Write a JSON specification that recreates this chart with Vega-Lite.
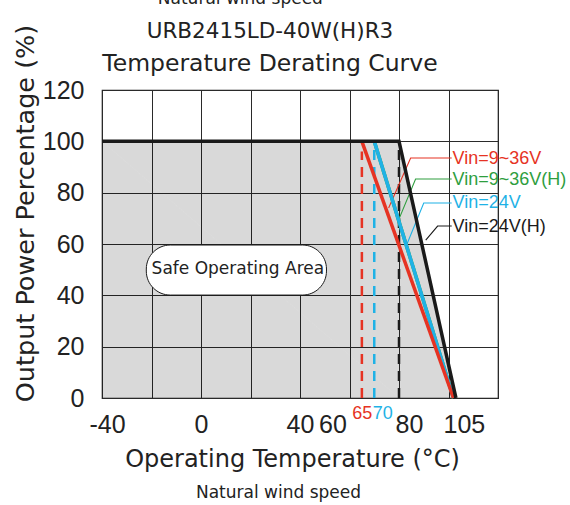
{
  "$schema": "https://vega.github.io/schema/vega-lite/v6.json",
  "width": 396,
  "height": 308,
  "autosize": "none",
  "padding": {"left": 102, "top": 90, "right": 72, "bottom": 107},
  "background": "white",
  "config": {
    "view": {"stroke": "#1a1a1a", "strokeWidth": 1.2},
    "font": "DejaVu Sans",
    "axis": {"labelOverlap": false}
  },
  "title": {
    "text": "URB2415LD-40W(H)R3",
    "subtitle": "Temperature Derating Curve",
    "fontSize": 21.5,
    "fontWeight": "normal",
    "font": "DejaVu Sans",
    "color": "#222",
    "subtitleFont": "DejaVu Sans",
    "subtitleFontSize": 23.5,
    "subtitleColor": "#222",
    "subtitlePadding": 10,
    "anchor": "middle",
    "dx": -30,
    "offset": -86
  },
  "datasets": {
    "curve": [
      {"s": "Vin=24V(H)", "t": -40, "p": 100, "o": 1},
      {"s": "Vin=24V(H)", "t": 80, "p": 100, "o": 2},
      {"s": "Vin=24V(H)", "t": 103, "p": 0, "o": 3},
      {"s": "Vin=9~36V(H)", "t": 70, "p": 100, "o": 1},
      {"s": "Vin=9~36V(H)", "t": 102, "p": 0, "o": 2},
      {"s": "Vin=24V", "t": 70, "p": 100, "o": 1},
      {"s": "Vin=24V", "t": 102, "p": 0, "o": 2},
      {"s": "Vin=9~36V", "t": 65, "p": 100, "o": 1},
      {"s": "Vin=9~36V", "t": 102, "p": 0, "o": 2}
    ],
    "dashes": [
      {"s": "Vin=9~36V", "t": 65, "p": 0, "p2": 96},
      {"s": "Vin=24V", "t": 70, "p": 0, "p2": 97},
      {"s": "Vin=24V(H)", "t": 80, "p": 0, "p2": 97}
    ],
    "leaders": [
      {"s": "Vin=9~36V", "t": 101.3, "p": 93.5, "o": 1},
      {"s": "Vin=9~36V", "t": 84.7, "p": 93.5, "o": 2},
      {"s": "Vin=9~36V", "t": 75.8, "p": 74.0, "o": 3},
      {"s": "Vin=9~36V(H)", "t": 101.3, "p": 85.3, "o": 1},
      {"s": "Vin=9~36V(H)", "t": 86.7, "p": 85.3, "o": 2},
      {"s": "Vin=9~36V(H)", "t": 79.8, "p": 69.3, "o": 3},
      {"s": "Vin=24V", "t": 101.3, "p": 76.0, "o": 1},
      {"s": "Vin=24V", "t": 90.0, "p": 76.0, "o": 2},
      {"s": "Vin=24V", "t": 83.4, "p": 60.4, "o": 3},
      {"s": "Vin=24V(H)", "t": 101.3, "p": 67.0, "o": 1},
      {"s": "Vin=24V(H)", "t": 95.6, "p": 67.0, "o": 2},
      {"s": "Vin=24V(H)", "t": 90.8, "p": 61.5, "o": 3}
    ],
    "labels": [
      {"s": "Vin=9~36V", "t": 101.6, "p": 93.3},
      {"s": "Vin=9~36V(H)", "t": 101.6, "p": 85.1},
      {"s": "Vin=24V", "t": 101.6, "p": 75.8},
      {"s": "Vin=24V(H)", "t": 101.6, "p": 66.8}
    ]
  },
  "encoding": {
    "x": {
      "field": "t",
      "type": "quantitative",
      "scale": {"domain": [-40, 120], "nice": false, "zero": false},
      "axis": {
        "title": "Operating Temperature (°C)",
        "titleFont": "DejaVu Sans",
        "titleFontSize": 24,
        "titleFontWeight": "normal",
        "titleColor": "#222",
        "titlePadding": 10,
        "titleX": 190,
        "values": [-40, -20, 0, 20, 40, 60, 65, 70, 80, 100, 105, 120],
        "labelExpr": "indexof([-40,0,40,60,65,70,80,105], datum.value) >= 0 ? '' + datum.value : ''",
        "labelFont": "Liberation Sans",
        "labelFontSize": {"condition": {"test": "datum.value == 65 || datum.value == 70", "value": 18}, "value": 25},
        "labelColor": {"condition": [{"test": "datum.value == 65", "value": "#e63323"}, {"test": "datum.value == 70", "value": "#1fb2e6"}], "value": "#222"},
        "labelPadding": {"condition": {"test": "datum.value == 65 || datum.value == 70", "value": 6}, "value": 14},
        "labelOffset": {"condition": [{"test": "datum.value == 60", "value": -17}, {"test": "datum.value == 70", "value": 8}, {"test": "datum.value == 80", "value": 10}, {"test": "datum.value == 105", "value": 3}, {"test": "datum.value == -40", "value": 5}], "value": 0},
        "labelOverlap": false,
        "labelBound": false,
        "labelFlush": false,
        "tickSize": 0,
        "domain": false,
        "grid": true,
        "gridColor": "#2a2a2a",
        "gridWidth": 1,
        "gridOpacity": {"condition": {"test": "datum.value == 65 || datum.value == 70 || datum.value == 105", "value": 0}, "value": 1}
      }
    },
    "y": {
      "field": "p",
      "type": "quantitative",
      "scale": {"domain": [0, 120], "nice": false},
      "axis": {
        "title": "Output Power Percentage (%)",
        "titleFont": "DejaVu Sans",
        "titleFontSize": 25.5,
        "titleFontWeight": "normal",
        "titleColor": "#222",
        "titleAngle": -90,
        "titleBaseline": "middle",
        "titleAlign": "center",
        "titleX": -77,
        "titleY": 123,
        "values": [0, 20, 40, 60, 80, 100, 120],
        "labelFont": "Liberation Sans",
        "labelFontSize": 25,
        "labelColor": "#222",
        "labelPadding": 18,
        "labelOverlap": false,
        "tickSize": 0,
        "domain": false,
        "grid": true,
        "gridColor": "#2a2a2a",
        "gridWidth": 1
      }
    }
  },
  "layer": [
    {
      "data": {"name": "curve"},
      "transform": [{"filter": "datum.s == 'Vin=24V(H)'"}],
      "mark": {"type": "area", "color": "#000000", "opacity": 0.15},
      "encoding": {
        "order": {"field": "o", "type": "quantitative"}
      }
    },
    {
      "data": {"name": "dashes"},
      "mark": {"type": "rule", "strokeWidth": 2.5, "strokeDash": [10, 7]},
      "encoding": {
        "y2": {"field": "p2"},
        "color": {
          "field": "s",
          "type": "nominal",
          "scale": {"domain": ["Vin=9~36V", "Vin=9~36V(H)", "Vin=24V", "Vin=24V(H)"], "range": ["#e63323", "#2e9e3e", "#1fb2e6", "#1a1a1a"]},
          "legend": null
        }
      }
    },
    {
      "data": {"name": "leaders"},
      "mark": {"type": "line", "strokeWidth": 1.1},
      "encoding": {
        "color": {"field": "s", "type": "nominal", "legend": null},
        "order": {"field": "o", "type": "quantitative"}
      }
    },
    {
      "data": {"name": "curve"},
      "transform": [{"filter": "datum.s != 'Vin=24V(H)'"}],
      "mark": {"type": "line", "strokeWidth": 3.5},
      "encoding": {
        "color": {"field": "s", "type": "nominal", "legend": null},
        "order": {"field": "o", "type": "quantitative"}
      }
    },
    {
      "data": {"name": "curve"},
      "transform": [{"filter": "datum.s == 'Vin=24V(H)'"}],
      "mark": {"type": "line", "strokeWidth": 3.5, "color": "#1a1a1a"},
      "encoding": {
        "order": {"field": "o", "type": "quantitative"}
      }
    },
    {
      "data": {"name": "labels"},
      "mark": {"type": "text", "font": "Liberation Sans", "fontSize": 18, "align": "left", "baseline": "middle"},
      "encoding": {
        "text": {"field": "s"},
        "color": {"field": "s", "type": "nominal", "legend": null}
      }
    },
    {
      "data": {"values": [{"t": -22.1, "t2": 50.7, "p": 40.1, "p2": 59.6}]},
      "mark": {"type": "rect", "fill": "white", "stroke": "#1a1a1a", "strokeWidth": 1, "cornerRadius": 24},
      "encoding": {
        "x2": {"field": "t2"},
        "y2": {"field": "p2"}
      }
    },
    {
      "data": {"values": [{"label": "Safe Operating Area", "t": 14.9, "p": 50.2}, {"label": "Natural wind speed", "t": 31.3, "p": -37}, {"label": "Natural wind speed", "t": 15.9, "p": 155.5}]},
      "mark": {"type": "text", "font": "DejaVu Sans", "fontSize": 17, "align": "center", "baseline": "middle", "color": "#222"},
      "encoding": {
        "text": {"field": "label"}
      }
    }
  ]
}
